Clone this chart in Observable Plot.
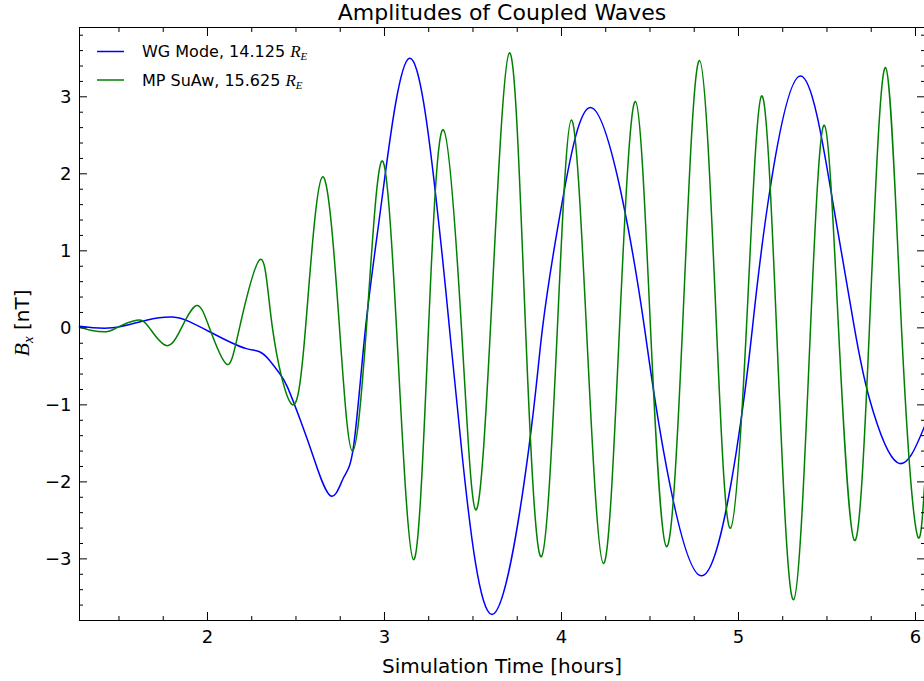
<!DOCTYPE html>
<html>
<head>
<meta charset="utf-8">
<script src="https://cdn.jsdelivr.net/npm/d3@7"></script>
<script src="https://cdn.jsdelivr.net/npm/@observablehq/plot@0.6"></script>
<style>
  body { margin: 0; background: #fff; }
  #chart svg { display: block; }
</style>
</head>
<body>
<div id="chart"></div>
<script>
// ---- Data ----
// WG Mode, 14.125 R_E (blue)
const wgTime = [1.277, 1.463, 1.655, 1.802, 1.898, 2.028, 2.124, 2.220, 2.294, 2.350, 2.407, 2.452, 2.525, 2.599, 2.695, 2.770, 2.827, 2.893, 2.985, 3.141, 3.288, 3.367, 3.441, 3.610, 3.814, 3.893, 4.006, 4.164, 4.345, 4.469, 4.576, 4.791, 4.989, 5.079, 5.169, 5.350, 5.531, 5.655, 5.740, 5.898, 6.051];
const wgBx   = [0.02, 0.00, 0.10, 0.14, 0.08, -0.07, -0.18, -0.27, -0.31, -0.42, -0.59, -0.77, -1.20, -1.68, -2.18, -1.94, -1.51, 0.00, 1.66, 3.50, 1.75, 0.00, -1.70, -3.72, -1.59, 0.00, 1.66, 2.86, 1.66, 0.00, -1.59, -3.22, -1.59, 0.00, 1.66, 3.27, 1.66, 0.00, -0.92, -1.75, -1.28];

// MP SuAw, 15.625 R_E (green)
const mpTime = [1.277, 1.339, 1.429, 1.486, 1.599, 1.672, 1.768, 1.853, 1.938, 2.011, 2.107, 2.181, 2.299, 2.367, 2.475, 2.554, 2.650, 2.746, 2.819, 2.898, 2.983, 3.068, 3.164, 3.249, 3.333, 3.435, 3.514, 3.599, 3.706, 3.797, 3.887, 3.977, 4.056, 4.141, 4.237, 4.328, 4.418, 4.503, 4.593, 4.684, 4.780, 4.876, 4.955, 5.045, 5.130, 5.215, 5.311, 5.407, 5.486, 5.565, 5.655, 5.740, 5.831, 5.921, 6.006, 6.051];
const mpBx   = [0.01, -0.03, -0.05, 0.00, 0.10, 0.00, -0.23, 0.00, 0.29, 0.00, -0.47, 0.00, 0.89, 0.00, -0.99, 0.00, 1.96, 0.00, -1.60, 0.00, 2.16, 0.00, -3.01, 0.00, 2.57, 0.00, -2.36, 0.00, 3.57, 0.00, -2.97, 0.00, 2.70, 0.00, -3.06, 0.00, 2.94, 0.00, -2.84, 0.00, 3.47, 0.00, -2.60, 0.00, 3.01, 0.00, -3.53, 0.00, 2.63, 0.00, -2.76, 0.00, 3.38, 0.00, -2.65, -2.05];

// Axis ticks
const xMajorTicks = [2, 3, 4, 5, 6];
const xMinorTicks = [1.5, 1.75, 2.25, 2.5, 2.75, 3.25, 3.5, 3.75, 4.25, 4.5, 4.75, 5.25, 5.5, 5.75];
const yMajorTicks = [-3, -2, -1, 0, 1, 2, 3];
const yMinorTicks = [-3.6, -3.4, -3.2, -2.8, -2.6, -2.4, -2.2, -1.8, -1.6, -1.4, -1.2, -0.8, -0.6, -0.4, -0.2, 0.2, 0.4, 0.6, 0.8, 1.2, 1.4, 1.6, 1.8, 2.2, 2.4, 2.6, 2.8, 3.2, 3.4, 3.6, 3.8];

const seriesNames = ["WG Mode, 14.125 ", "MP SuAw, 15.625 "];
const seriesColors = ["#0000ff", "#008000"];
const titleText = "Amplitudes of Coupled Waves";
const xLabelText = "Simulation Time [hours]";

// ---- Build tables ----
const wg = wgTime.map((t, i) => ({t, b: wgBx[i]}));
const mp = mpTime.map((t, i) => ({t, b: mpBx[i]}));

const fmt = d3.format("d");
const FONT = "DejaVu Sans, Bitstream Vera Sans, sans-serif";
const blank = () => "";

const plot = Plot.plot({
  width: 924,
  height: 681,
  marginLeft: 79,
  marginRight: 0,
  marginTop: 27,
  marginBottom: 61,
  style: {fontFamily: FONT, background: "#fff", color: "#000", overflow: "visible"},
  x: {domain: [1.277, 6.051]},
  y: {domain: [-3.80, 3.90]},
  marks: [
    Plot.line(wg, {x: "t", y: "b", stroke: seriesColors[0], strokeWidth: 1.5, curve: "natural"}),
    Plot.line(mp, {x: "t", y: "b", stroke: seriesColors[1], strokeWidth: 1.5, curve: "natural"}),
    Plot.frame({stroke: "#000", strokeWidth: 1}),
    // bottom
    Plot.axisX(xMajorTicks, {anchor: "bottom", tickSize: -8, tickPadding: 18, fontSize: 18, tickFormat: fmt, label: null, stroke: "#000"}),
    Plot.axisX(xMinorTicks, {anchor: "bottom", tickSize: -4, tickFormat: blank, label: null, stroke: "#000"}),
    // top
    Plot.axisX(xMajorTicks, {anchor: "top", tickSize: -8, tickFormat: blank, label: null, stroke: "#000"}),
    Plot.axisX(xMinorTicks, {anchor: "top", tickSize: -4, tickFormat: blank, label: null, stroke: "#000"}),
    // left
    Plot.axisY(yMajorTicks, {anchor: "left", tickSize: -8, tickPadding: 16, fontSize: 18, tickFormat: fmt, label: null, stroke: "#000"}),
    Plot.axisY(yMinorTicks, {anchor: "left", tickSize: -4, tickFormat: blank, label: null, stroke: "#000"}),
    // right
    Plot.axisY(yMajorTicks, {anchor: "right", tickSize: -8, tickFormat: blank, label: null, stroke: "#000"}),
    Plot.axisY(yMinorTicks, {anchor: "right", tickSize: -4, tickFormat: blank, label: null, stroke: "#000"}),
    // title and x label
    Plot.text([titleText], {frameAnchor: "top", dy: -15, lineAnchor: "middle", fontSize: 22, fill: "#000"}),
    Plot.text([xLabelText], {frameAnchor: "bottom", dy: 46, lineAnchor: "middle", fontSize: 20, fill: "#000"})
  ]
});

document.getElementById("chart").appendChild(plot);

// ---- Rich text: y label and legend ----
const svg = d3.select(plot);
const SERIF = "Liberation Serif, DejaVu Serif, serif";

const yl = svg.append("text")
  .attr("transform", "translate(29,323) rotate(-90)")
  .attr("text-anchor", "middle")
  .attr("font-family", FONT)
  .attr("font-size", 20)
  .attr("fill", "#000");
yl.append("tspan").attr("font-family", SERIF).attr("font-style", "italic").attr("font-size", 22).text("B");
yl.append("tspan").attr("font-family", SERIF).attr("font-style", "italic").attr("font-size", 15).attr("dy", 4).text("x");
yl.append("tspan").attr("dy", -4).text(" [nT]");

const legendRows = [51.5, 80];
seriesNames.forEach((name, i) => {
  const y = legendRows[i];
  svg.append("line")
    .attr("x1", 97).attr("x2", 124).attr("y1", y).attr("y2", y)
    .attr("stroke", seriesColors[i]).attr("stroke-width", 1.5);
  const t = svg.append("text")
    .attr("x", 142).attr("y", y + 5.5)
    .attr("text-anchor", "start")
    .attr("font-family", FONT).attr("font-size", 16).attr("fill", "#000");
  t.append("tspan").text(name);
  t.append("tspan").attr("font-family", SERIF).attr("font-style", "italic").attr("font-size", 17).text("R");
  t.append("tspan").attr("font-family", SERIF).attr("font-style", "italic").attr("font-size", 11).attr("dy", 3).text("E");
});
</script>
</body>
</html>
